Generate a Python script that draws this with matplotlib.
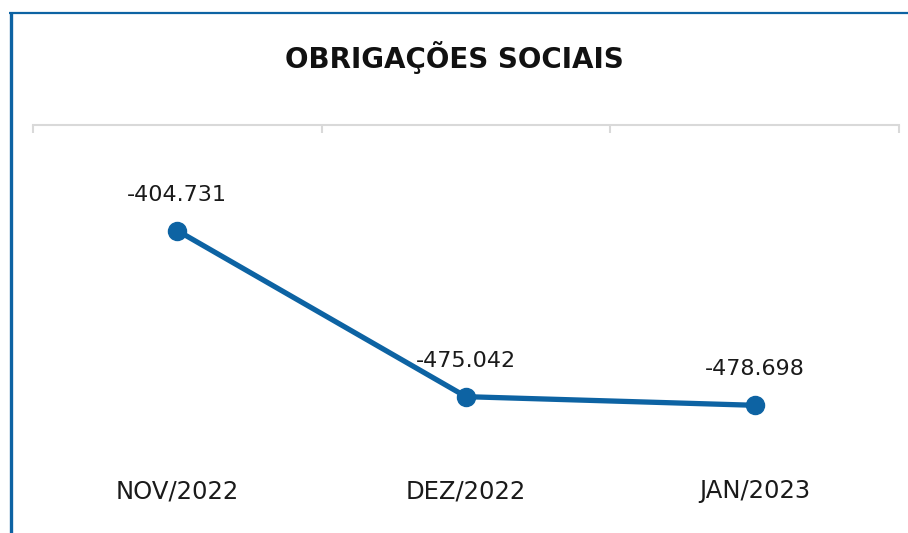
import matplotlib
matplotlib.use("Agg")
import matplotlib.pyplot as plt
from matplotlib.lines import Line2D
from matplotlib.ticker import FixedLocator

categories = ["NOV/2022", "DEZ/2022", "JAN/2023"]
values = [-404731, -475042, -478698]
title = "OBRIGAÇÕES SOCIAIS"

blue = "#0D63A3"
W, H = 908, 533
fig = plt.figure(figsize=(W / 100, H / 100), dpi=100)

def fx(px):
    return px / W

def fy(py):
    return 1 - py / H

top_px, bot_px = 125, 455.6
ax = fig.add_axes([fx(33), fy(bot_px), fx(899) - fx(33), fy(top_px) - fy(bot_px)])

x = list(range(len(categories)))
ax.plot(x, values, color=blue, lw=3.8, marker="o", ms=13, mfc=blue, mec=blue,
        solid_capstyle="round", zorder=3)

ax.set_xlim(-0.5, len(categories) - 0.5)
ax.set_ylim(-500000, -360000)

def fmt(v):
    s = f"{abs(v):,}".replace(",", ".")
    return ("-" if v < 0 else "") + s

for xi, v in zip(x, values):
    ax.annotate(fmt(v), (xi, v), xytext=(0, 26), textcoords="offset points",
                ha="center", va="center", fontsize=16, color="#1a1a1a")

for s in ["left", "right", "bottom"]:
    ax.spines[s].set_visible(False)
ax.spines["top"].set_color("#D9D9D9")
ax.spines["top"].set_linewidth(1.5)
ax.set_yticks([])

ax.xaxis.set_major_locator(FixedLocator(x))
ax.set_xticklabels(categories, fontsize=17.5, color="#1a1a1a")
ax.tick_params(axis="x", which="major", length=0, pad=17, bottom=True, top=False)
ax.xaxis.set_minor_locator(FixedLocator([-0.5, 0.5, 1.5, 2.5]))
ax.tick_params(axis="x", which="minor", top=True, bottom=False, direction="in",
               length=6, width=1.5, color="#D9D9D9")

fig.text(0.5, fy(58), title, ha="center", va="center", fontsize=20,
         fontweight="bold", color="#111111")

# frame borders
fig.add_artist(Line2D([fx(10.5), fx(10.5)], [fy(13), 0], color=blue, lw=2.4,
                      transform=fig.transFigure, solid_capstyle="butt"))
fig.add_artist(Line2D([fx(9.3), 1], [fy(13), fy(13)], color=blue, lw=1.6,
                      transform=fig.transFigure, solid_capstyle="butt"))

fig.savefig("out.png", dpi=100, facecolor="white")
